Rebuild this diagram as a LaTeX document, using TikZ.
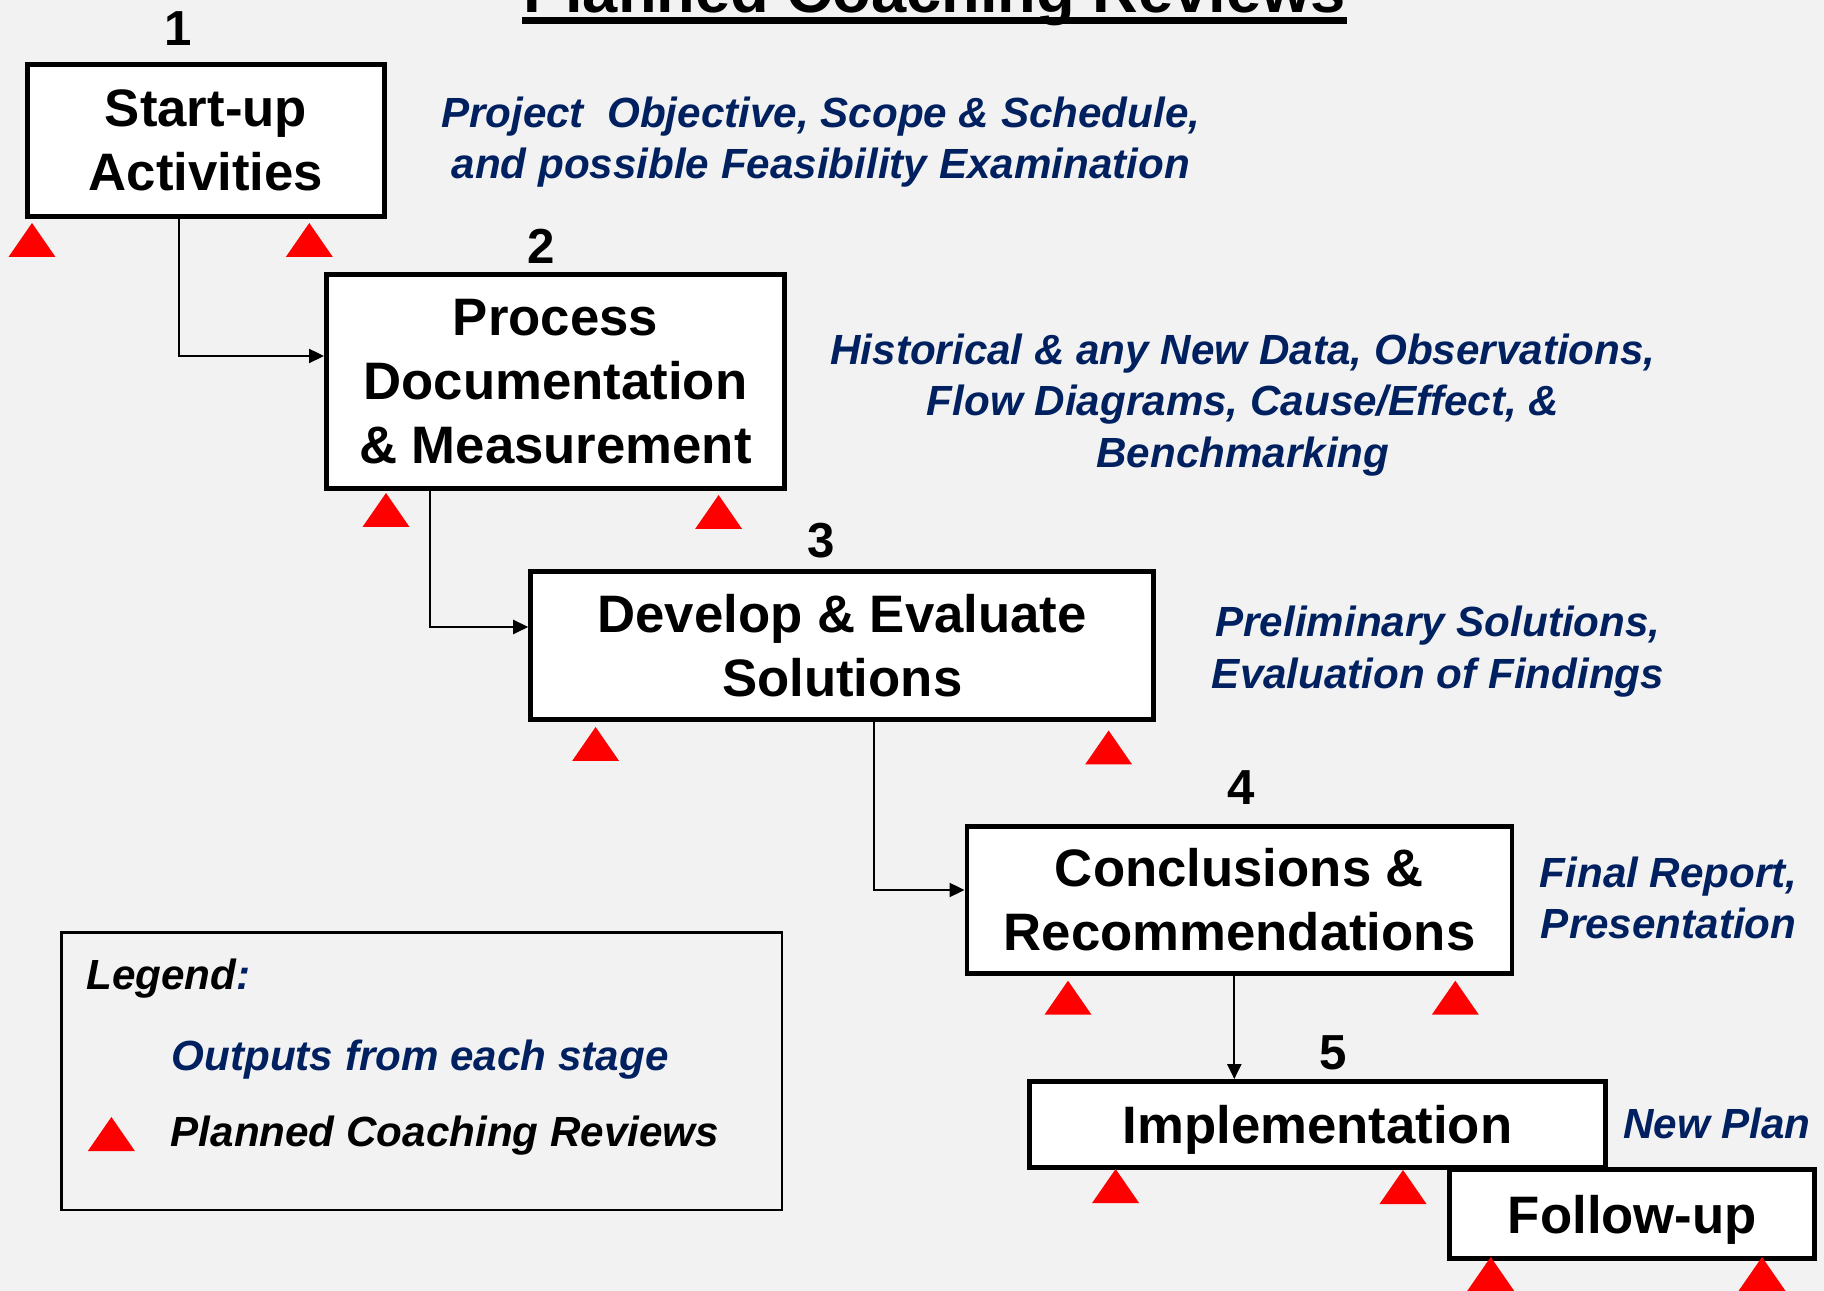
\documentclass[tikz,border=0pt]{standalone}
\usepackage{fontspec}
\setmainfont{Liberation Sans}
\usetikzlibrary{arrows.meta}
\definecolor{pagebg}{HTML}{F2F2F2}
\definecolor{outblue}{HTML}{002060}

\begin{document}
\begin{tikzpicture}[>={Triangle[length=1.5mm,width=1.4mm]},line cap=round,
  stage/.style={draw,line width=1.4pt,fill=white,align=center,inner sep=0pt,
    font=\bfseries\fontsize{15}{18.2}\selectfont},
  stagenum/.style={font=\bfseries\fontsize{14}{16}\selectfont},
  output/.style={text=outblue,align=center,font=\bfseries\itshape\fontsize{12}{14.7}\selectfont},
  legtext/.style={anchor=base west,inner sep=0pt,font=\bfseries\itshape\fontsize{12}{14}\selectfont},
  flow/.style={->,line width=0.6pt}]
\fill[pagebg] (0,0) rectangle (18.24,-12.91);
\useasboundingbox (0,0) rectangle (18.24,-12.91);

\node[font=\bfseries\fontsize{18}{20}\selectfont,inner sep=0pt,anchor=base] (title) at (9.345,-0.13) {Planned Coaching Reviews};
\draw[line width=2pt,line cap=butt] ([yshift=-2.2pt]title.base west) -- ([yshift=-2.2pt]title.base east);

\node[stage,minimum width=3.57cm,minimum height=1.52cm] (s1) at (2.06,-1.405) {Start-up\\Activities};
\node[stage,minimum width=4.58cm,minimum height=2.14cm] (s2) at (5.555,-3.815) {Process\\Documentation\\\& Measurement};
\node[stage,minimum width=6.23cm,minimum height=1.485cm] (s3) at (8.422,-6.456) {Develop \& Evaluate\\Solutions};
\node[stage,minimum width=5.45cm,minimum height=1.474cm] (s4) at (12.395,-8.998) {Conclusions \&\\Recommendations};
\node[stage,text depth=0pt,minimum width=5.76cm,minimum height=0.86cm] (s5) at (13.175,-11.245) {Implementation};
\node[stage,text depth=0pt,minimum width=3.65cm,minimum height=0.89cm] (s6) at (16.324,-12.14) {Follow-up};

\node[stagenum] (n1) at (1.78,-0.29) {1};
\node[stagenum] (n2) at (5.41,-2.466) {2};
\node[stagenum] (n3) at (8.213,-5.41) {3};
\node[stagenum] (n4) at (12.41,-7.876) {4};
\node[stagenum] (n5) at (13.33,-10.528) {5};

\node[output] (o1) at (8.207,-1.42) {Project\ \ Objective, Scope \& Schedule,\\and possible Feasibility Examination};
\node[output] (o2) at (12.43,-4.05) {Historical \& any New Data, Observations,\\Flow Diagrams, Cause/Effect, \&\\Benchmarking};
\node[output] (o3) at (14.38,-6.515) {Preliminary Solutions,\\Evaluation of Findings};
\node[output] (o4) at (16.687,-8.98) {Final Report,\\Presentation};
\node[output] (o5) at (17.17,-11.235) {New Plan};

\draw[flow] ([xshift=-0.27cm]s1.south) |- ([yshift=0.255cm]s2.west);
\draw[flow] ([xshift=-1.251cm]s2.south) |- ([yshift=0.186cm]s3.west);
\draw[flow] ([xshift=0.314cm]s3.south) |- ([yshift=0.098cm]s4.west);
\draw[flow] ([xshift=-0.052cm]s4.south) -- ([xshift=-0.052cm]s4.south |- s5.north);

\foreach \x/\y in {0.32/2.23,3.093/2.23,3.86/4.93,7.186/4.95,5.956/7.27,11.086/7.305,
    10.68/9.807,14.553/9.807,11.156/11.69,14.03/11.70,14.907/12.57,17.62/12.57,1.114/11.17}
  \fill[red] (\x,-\y) -- ++(-0.235,-0.34) -- ++(0.47,0) -- cycle;

\node[draw,line width=0.8pt,minimum width=7.205cm,minimum height=2.775cm] (legend) at (4.2175,-10.7125) {};
\node[legtext] (legtitle) at (0.857,-9.89) {Legend\textcolor{outblue}{:}};
\node[legtext,text=outblue] (legout) at (1.71,-10.70) {Outputs from each stage};
\node[legtext] (legrev) at (1.70,-11.46) {Planned Coaching Reviews};
\end{tikzpicture}
\end{document}
